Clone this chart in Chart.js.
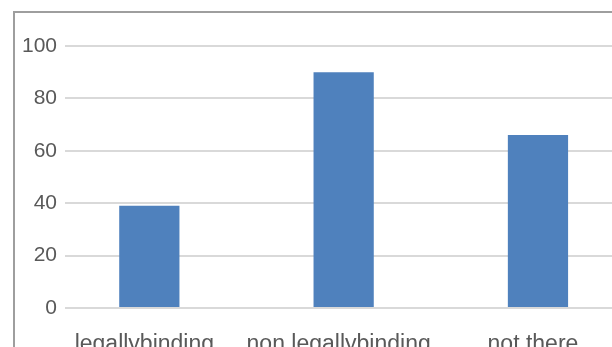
<!DOCTYPE html>
<html>
<head>
<meta charset="utf-8">
<script src="https://cdn.jsdelivr.net/npm/chart.js@4.4.1/dist/chart.umd.min.js"></script>
<style>
  html, body {
    margin: 0;
    padding: 0;
    background: #fff;
  }
  #page {
    position: relative;
    width: 612px;
    height: 347px;
    overflow: hidden;
    background: #fff;
  }
  #frame {
    position: absolute;
    left: 13px;
    top: 11px;
    width: 680px;
    height: 380px;
    border: 2px solid #9e9e9e;
    box-sizing: border-box;
  }
  #chart {
    position: absolute;
    left: 0;
    top: 0;
  }
</style>
</head>
<body>
<div id="page">
  <div id="frame"></div>
  <canvas id="chart" width="680" height="380"></canvas>
</div>
<script>
const categories = ["legallybinding", "non legallybinding", "not there"];
const values = [39, 90, 66];
const yTicks = [0, 20, 40, 60, 80, 100];

const textColor = "#595959";
const gridColor = "#d9d9d9";

const points = values.map((v, i) => ({ x: i, y: v }));

const chart = new Chart("chart", {
  type: "bar",
  data: {
    datasets: [
      {
        data: points,
        backgroundColor: "#4f81bd",
        borderWidth: 0,
        categoryPercentage: 1,
        barPercentage: 0.31,
      },
    ],
  },
  options: {
    responsive: false,
    animation: false,
    layout: {
      padding: { top: 46, right: 20, bottom: 0, left: 0 },
    },
    plugins: {
      legend: { display: false },
      tooltip: { enabled: false },
    },
    scales: {
      x: {
        type: "linear",
        offset: false,
        min: -0.434,
        max: 2.628,
        afterFit: (scale) => {
          scale.height = 72;
        },
        afterBuildTicks: (scale) => {
          scale.ticks = categories.map((_, i) => ({ value: i }));
        },
        grid: { display: false, drawTicks: false },
        border: { display: false },
        ticks: {
          autoSkip: false,
          maxRotation: 0,
          padding: 23,
          labelOffset: -5,
          color: textColor,
          font: { family: "Liberation Sans", size: 23 },
          callback: (value) => categories[value],
        },
      },
      y: {
        min: 0,
        max: 100,
        afterFit: (scale) => {
          scale.width = 65;
        },
        afterBuildTicks: (scale) => {
          scale.ticks = yTicks.map((v) => ({ value: v }));
        },
        grid: {
          color: gridColor,
          lineWidth: 2,
          drawTicks: false,
        },
        border: { display: false },
        ticks: {
          padding: 8,
          color: textColor,
          font: { family: "Liberation Sans", size: 21 },
        },
      },
    },
  },
});
</script>
</body>
</html>
